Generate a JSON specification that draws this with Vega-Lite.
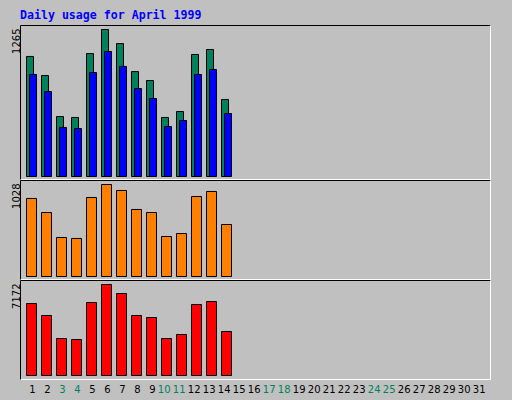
{
  "$schema": "https://vega.github.io/schema/vega-lite/v6.json",
  "background": "#C0C0C0",
  "padding": {"left": 0, "top": 10, "right": 22, "bottom": 0},
  "title": {"text": "Daily usage for April 1999", "anchor": "start", "frame": "bounds", "dx": 20, "offset": 3.4, "font": "DejaVu Sans Mono", "fontSize": 11.6, "fontWeight": "bold", "color": "#0000FF", "baseline": "top"},
  "data": {"values": [
    {"day": 1, "hits": 1033, "files": 878, "sites": 872, "kbytes": 5674},
    {"day": 2, "hits": 869, "files": 731, "sites": 715, "kbytes": 4729},
    {"day": 3, "hits": 516, "files": 422, "sites": 436, "kbytes": 2916},
    {"day": 4, "hits": 508, "files": 413, "sites": 425, "kbytes": 2837},
    {"day": 5, "hits": 1058, "files": 895, "sites": 883, "kbytes": 5753},
    {"day": 6, "hits": 1265, "files": 1076, "sites": 1028, "kbytes": 7172},
    {"day": 7, "hits": 1144, "files": 947, "sites": 961, "kbytes": 6463},
    {"day": 8, "hits": 903, "files": 757, "sites": 749, "kbytes": 4729},
    {"day": 9, "hits": 826, "files": 671, "sites": 715, "kbytes": 4571},
    {"day": 10, "hits": 508, "files": 430, "sites": 447, "kbytes": 2916},
    {"day": 11, "hits": 559, "files": 482, "sites": 480, "kbytes": 3231},
    {"day": 12, "hits": 1050, "files": 878, "sites": 894, "kbytes": 5596},
    {"day": 13, "hits": 1093, "files": 921, "sites": 950, "kbytes": 5832},
    {"day": 14, "hits": 663, "files": 542, "sites": 581, "kbytes": 3468}
  ]},
  "spacing": 1,
  "vconcat": [
    {
      "width": 470, "height": 154,
      "layer": [
        {
          "mark": {"type": "bar", "width": 7, "xOffset": -5, "fill": "#00805C", "stroke": "black", "strokeWidth": 1},
          "encoding": {
            "x": {"field": "day", "type": "quantitative", "scale": {"domain": [0, 31.33333], "nice": false, "zero": false, "padding": 0},
                  "axis": {"orient": "top", "labels": false, "title": null, "domainColor": "black", "minExtent": 0, "maxExtent": 0}},
            "y": {"field": "hits", "type": "quantitative", "scale": {"domain": [-21.5, 1303.7], "nice": false, "zero": false},
                  "axis": {"orient": "left", "values": [1265], "format": "d", "title": null, "labelAngle": -90, "labelAlign": "right", "labelBaseline": "alphabetic", "labelPadding": 1, "labelOffset": -1.5, "domainColor": "black", "minExtent": 20, "maxExtent": 20}}
          }
        },
        {
          "mark": {"type": "bar", "width": 7, "xOffset": -2, "fill": "#0000FF", "stroke": "black", "strokeWidth": 1},
          "encoding": {
            "x": {"field": "day", "type": "quantitative", "axis": {"orient": "bottom", "labels": false, "title": null, "domainColor": "white", "minExtent": 0, "maxExtent": 0}},
            "y": {"field": "files", "type": "quantitative", "axis": {"orient": "right", "labels": false, "title": null, "domainColor": "white", "minExtent": 0, "maxExtent": 0}}
          }
        }
      ],
      "resolve": {"axis": {"x": "independent", "y": "independent"}}
    },
    {
      "width": 470, "height": 99,
      "layer": [
        {
          "mark": {"type": "bar", "width": 10, "xOffset": -3.5, "fill": "#FF8000", "stroke": "black", "strokeWidth": 1},
          "encoding": {
            "x": {"field": "day", "type": "quantitative", "scale": {"domain": [0, 31.33333], "nice": false, "zero": false, "padding": 0},
                  "axis": {"orient": "top", "labels": false, "title": null, "domainColor": "black", "minExtent": 0, "maxExtent": 0}},
            "y": {"field": "sites", "type": "quantitative", "scale": {"domain": [-27.9, 1078.3], "nice": false, "zero": false},
                  "axis": {"orient": "left", "values": [1028], "format": "d", "title": null, "labelAngle": -90, "labelAlign": "right", "labelBaseline": "alphabetic", "labelPadding": 1, "labelOffset": -1.5, "domainColor": "black", "minExtent": 20, "maxExtent": 20}}
          }
        },
        {
          "mark": {"type": "bar", "width": 10, "xOffset": -3.5, "opacity": 0},
          "encoding": {
            "x": {"field": "day", "type": "quantitative", "axis": {"orient": "bottom", "labels": false, "title": null, "domainColor": "white", "minExtent": 0, "maxExtent": 0}},
            "y": {"field": "sites", "type": "quantitative", "axis": {"orient": "right", "labels": false, "title": null, "domainColor": "white", "minExtent": 0, "maxExtent": 0}}
          }
        }
      ],
      "resolve": {"axis": {"x": "independent", "y": "independent"}}
    },
    {
      "width": 470, "height": 99,
      "layer": [
        {
          "mark": {"type": "bar", "width": 10, "xOffset": -3.5, "fill": "#FF0000", "stroke": "black", "strokeWidth": 1},
          "encoding": {
            "x": {"field": "day", "type": "quantitative", "scale": {"domain": [0, 31.33333], "nice": false, "zero": false, "padding": 0},
                  "axis": {"orient": "top", "labels": false, "title": null, "domainColor": "black", "minExtent": 0, "maxExtent": 0}},
            "y": {"field": "kbytes", "type": "quantitative", "scale": {"domain": [-275.8, 7526.6], "nice": false, "zero": false},
                  "axis": {"orient": "left", "values": [7172], "format": "d", "title": null, "labelAngle": -90, "labelAlign": "right", "labelBaseline": "alphabetic", "labelPadding": 1, "labelOffset": -1.5, "domainColor": "black", "minExtent": 20, "maxExtent": 20}}
          }
        },
        {
          "mark": {"type": "bar", "width": 10, "xOffset": -3.5, "opacity": 0},
          "encoding": {
            "x": {"field": "day", "type": "quantitative",
                  "axis": {"orient": "bottom", "title": null, "domainColor": "white", "values": [1,2,3,4,5,6,7,8,9,10,11,12,13,14,15,16,17,18,19,20,21,22,23,24,25,26,27,28,29,30,31], "format": "d",
                           "labelAlign": "right", "labelBaseline": "alphabetic", "labelPadding": 13, "labelFlush": false, "labelOverlap": false, "labelAngle": 0,
                           "labelColor": {"condition": {"test": "indexof([3,4,10,11,17,18,24,25], datum.value) >= 0", "value": "#00805C"}, "value": "black"},
                           "minExtent": 21, "maxExtent": 21}},
            "y": {"field": "kbytes", "type": "quantitative", "axis": {"orient": "right", "labels": false, "title": null, "domainColor": "white", "minExtent": 0, "maxExtent": 0}}
          }
        }
      ],
      "resolve": {"axis": {"x": "independent", "y": "independent"}}
    }
  ],
  "config": {
    "view": {"stroke": null},
    "axis": {"grid": false, "ticks": false, "domainWidth": 1, "labelFont": "DejaVu Sans", "labelFontSize": 10, "labelColor": "black"}
  }
}
